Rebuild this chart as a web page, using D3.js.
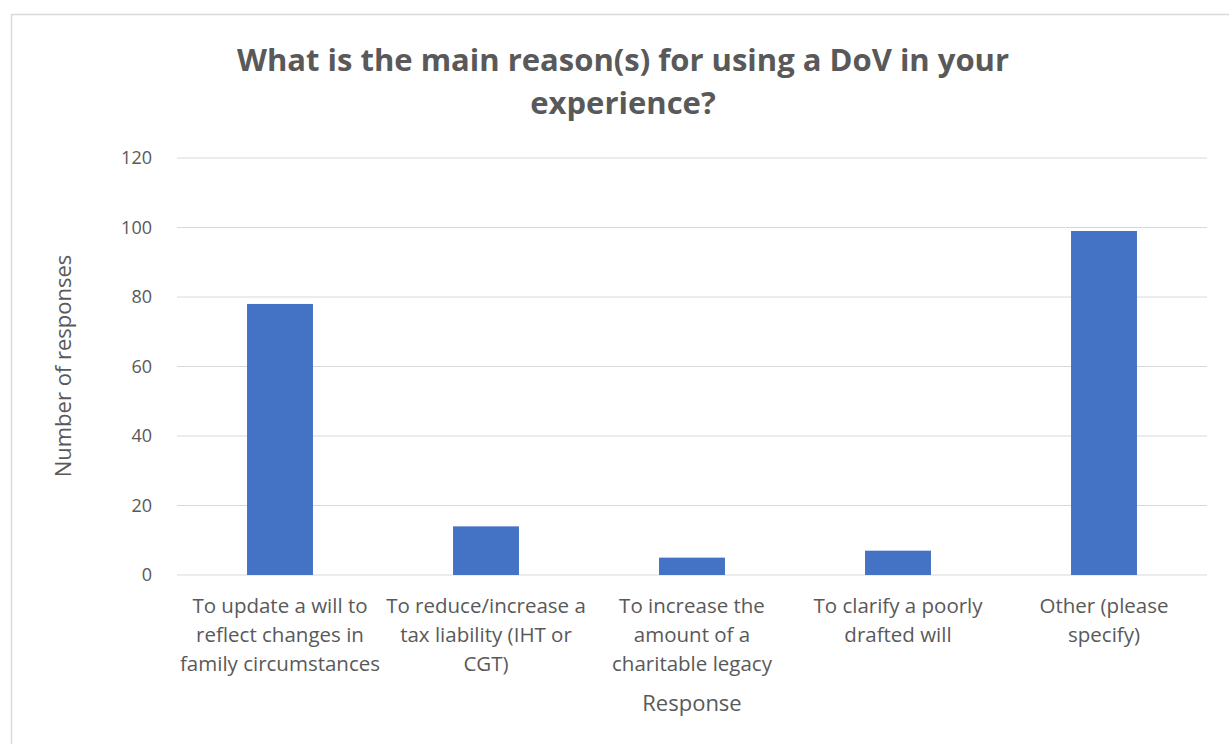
<!DOCTYPE html>
<html>
<head>
<meta charset="utf-8">
<script src="https://cdn.jsdelivr.net/npm/d3@7"></script>
<style>
  body { margin: 0; background: #fff; }
  text { font-family: "Open Sans", "Noto Sans", sans-serif; fill: #595959; }
</style>
</head>
<body>
<div id="chart"></div>
<script>
// data
const categories = [
    ["To update a will to", "reflect changes in", "family circumstances"],
    ["To reduce/increase a", "tax liability (IHT or", "CGT)"],
    ["To increase the", "amount of a", "charitable legacy"],
    ["To clarify a poorly", "drafted will"],
    ["Other (please", "specify)"]
];
const responses = [78, 14, 5, 7, 99];
const yTicks = [0, 20, 40, 60, 80, 100, 120];
const titleLines = ["What is the main reason(s) for using a DoV in your", "experience?"];

const width = 1229, height = 744;
const margin = {top: 158, left: 177, right: 22, bottom: 169};

const svg = d3.select("#chart")
    .append("svg")
    .attr("width", width)
    .attr("height", height);

// chart frame
svg.append("rect")
    .attr("x", 11.5).attr("y", 14.5)
    .attr("width", 1230).attr("height", 740)
    .attr("fill", "#fff")
    .attr("stroke", "#d9d9d9")
    .attr("stroke-width", 1.5);

const xScale = d3.scaleBand()
    .domain(d3.range(categories.length))
    .range([margin.left, width - margin.right])
    .paddingInner(0.68)
    .paddingOuter(0.34);

const yScale = d3.scaleLinear()
    .domain([0, 120])
    .range([height - margin.bottom, margin.top]);

// gridlines
svg.append("g")
    .selectAll("line")
    .data(yTicks)
    .enter()
    .append("line")
        .attr("x1", margin.left)
        .attr("x2", width - margin.right)
        .attr("y1", d => yScale(d))
        .attr("y2", d => yScale(d))
        .attr("stroke", "#d9d9d9")
        .attr("stroke-width", 1);

// y axis labels
const yAxis = svg.append("g")
    .attr("transform", `translate(${margin.left - 22},0)`)
    .call(d3.axisLeft(yScale).tickValues(yTicks).tickSize(0));
yAxis.select(".domain").remove();
yAxis.selectAll("text")
    .attr("font-size", 18)
    .attr("fill", "#595959")
    .attr("font-family", "Open Sans, sans-serif");

// bars
svg.selectAll("rect.bar")
    .data(responses)
    .enter()
    .append("rect")
        .attr("class", "bar")
        .attr("x", (d, i) => xScale(i))
        .attr("y", d => yScale(d))
        .attr("width", xScale.bandwidth())
        .attr("height", d => yScale(0) - yScale(d))
        .attr("fill", "#4472c4");

// x axis category labels
const xLabels = svg.append("g");
categories.forEach(function(lines, i) {
    const t = xLabels.append("text")
        .attr("text-anchor", "middle")
        .attr("font-size", 20.5)
        .attr("x", xScale(i) + xScale.bandwidth() / 2)
        .attr("y", yScale(0) + 38);
    lines.forEach(function(line, j) {
        t.append("tspan")
            .attr("x", xScale(i) + xScale.bandwidth() / 2)
            .attr("dy", j === 0 ? 0 : 29)
            .text(line);
    });
});

// axis titles
svg.append("text")
    .attr("text-anchor", "middle")
    .attr("font-size", 22)
    .attr("x", 692)
    .attr("y", 711)
    .text("Response");

svg.append("text")
    .attr("text-anchor", "middle")
    .attr("font-size", 22)
    .attr("transform", "rotate(-90)")
    .attr("x", -366)
    .attr("y", 71)
    .text("Number of responses");

// title
svg.append("g")
    .selectAll("text")
    .data(titleLines)
    .enter()
    .append("text")
        .attr("text-anchor", "middle")
        .attr("font-size", 31)
        .attr("font-weight", "bold")
        .attr("x", 623)
        .attr("y", (d, i) => 71 + i * 43)
        .text(d => d);
</script>
</body>
</html>
